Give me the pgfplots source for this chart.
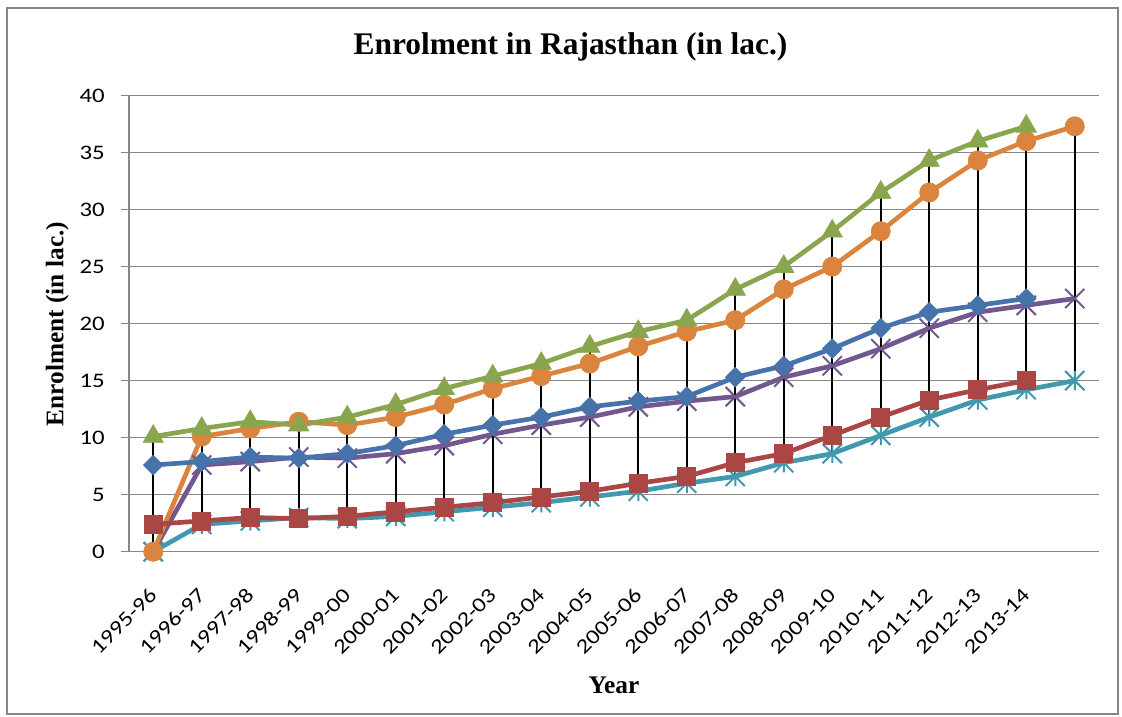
\documentclass[border=0pt]{standalone}
\usepackage{fontspec}
\usepackage{pgfplots}
\usepackage{pgfplotstable}
\pgfplotsset{compat=1.18}
\setmainfont{Liberation Serif}
\newfontfamily\tickfont[FakeStretch=1.2]{Carlito}

\definecolor{sblue}{HTML}{4673AB}
\definecolor{sred}{HTML}{AA4643}
\definecolor{sgreen}{HTML}{89A54E}
\definecolor{spurple}{HTML}{71588F}
\definecolor{scyan}{HTML}{4198AF}
\definecolor{sorange}{HTML}{DB843D}
\definecolor{gridgray}{HTML}{868686}

% diagonal cross, and diagonal cross with a vertical bar
\pgfdeclareplotmark{xcross}{%
  \pgfpathmoveto{\pgfqpoint{-\pgfplotmarksize}{-\pgfplotmarksize}}%
  \pgfpathlineto{\pgfqpoint{\pgfplotmarksize}{\pgfplotmarksize}}%
  \pgfpathmoveto{\pgfqpoint{-\pgfplotmarksize}{\pgfplotmarksize}}%
  \pgfpathlineto{\pgfqpoint{\pgfplotmarksize}{-\pgfplotmarksize}}%
  \pgfusepathqstroke}
\pgfdeclareplotmark{xstar}{%
  \pgfpathmoveto{\pgfqpoint{-\pgfplotmarksize}{-\pgfplotmarksize}}%
  \pgfpathlineto{\pgfqpoint{\pgfplotmarksize}{\pgfplotmarksize}}%
  \pgfpathmoveto{\pgfqpoint{-\pgfplotmarksize}{\pgfplotmarksize}}%
  \pgfpathlineto{\pgfqpoint{\pgfplotmarksize}{-\pgfplotmarksize}}%
  \pgfpathmoveto{\pgfqpoint{0pt}{-\pgfplotmarksize}}%
  \pgfpathlineto{\pgfqpoint{0pt}{\pgfplotmarksize}}%
  \pgfusepathqstroke}

% Enrolment in lakh; columns P, C, O are B, R, G carried one year forward.
% hi/lo give the span of all six series at each year (high-low lines).
\pgfplotstableread{
x  B     R     G     P     C     O     hi    lo
1  7.6   2.4   10.1  0     0     0     10.1  0
2  7.9   2.7   10.8  7.6   2.4   10.1  10.8  2.4
3  8.3   3.0   11.4  7.9   2.7   10.8  11.4  2.7
4  8.2   2.9   11.1  8.3   3.0   11.4  11.4  2.9
5  8.6   3.1   11.8  8.2   2.9   11.1  11.8  2.9
6  9.3   3.5   12.9  8.6   3.1   11.8  12.9  3.1
7  10.3  3.9   14.3  9.3   3.5   12.9  14.3  3.5
8  11.1  4.3   15.4  10.3  3.9   14.3  15.4  3.9
9  11.8  4.8   16.5  11.1  4.3   15.4  16.5  4.3
10 12.7  5.3   18.0  11.8  4.8   16.5  18.0  4.8
11 13.2  6.0   19.3  12.7  5.3   18.0  19.3  5.3
12 13.6  6.6   20.3  13.2  6.0   19.3  20.3  6.0
13 15.3  7.8   23.0  13.6  6.6   20.3  23.0  6.6
14 16.3  8.6   25.0  15.3  7.8   23.0  25.0  7.8
15 17.8  10.2  28.1  16.3  8.6   25.0  28.1  8.6
16 19.6  11.8  31.5  17.8  10.2  28.1  31.5  10.2
17 21.0  13.3  34.3  19.6  11.8  31.5  34.3  11.8
18 21.6  14.2  36.0  21.0  13.3  34.3  36.0  13.3
19 22.2  15.0  37.3  21.6  14.2  36.0  37.3  14.2
20 nan   nan   nan   22.2  15.0  37.3  37.3  15.0
}\enrol

\begin{document}
\begin{tikzpicture}
% page frame
\path[use as bounding box] (0,0) rectangle (841.5pt,-537.75pt);
\draw[gridgray, line width=1.1pt] (5.25pt,-6pt) rectangle (838.5pt,-535.5pt);

\begin{axis}[
  at={(96.75pt,-413.78pt)}, anchor=south west,
  scale only axis, width=727.5pt, height=342.15pt,
  xmin=0.5, xmax=20.5, ymin=0, ymax=40,
  axis x line*=bottom, axis y line*=left,
  axis line style={gridgray, line width=1pt},
  ymajorgrids, grid style={gridgray, line width=1pt},
  ytick={0,5,...,40},
  xtick={1,...,19},
  xticklabels={1995-96,1996-97,1997-98,1998-99,1999-00,2000-01,2001-02,2002-03,2003-04,2004-05,2005-06,2006-07,2007-08,2008-09,2009-10,2010-11,2011-12,2012-13,2013-14},
  tick align=outside, major tick length=6pt,
  xtick style={draw=none}, ytick style={gridgray, line width=1pt},
  /pgf/number format/assume math mode=true,
  yticklabel style={font=\tickfont\fontsize{15.5}{18}\selectfont, inner sep=0pt, xshift=-12pt},
  xticklabel style={font=\tickfont\fontsize{15.5}{18}\selectfont, rotate=45, anchor=east, inner sep=0pt},
  xticklabel shift=24pt,
  clip=false,
]
\addplot[spurple, line width=3.5pt, mark=xcross, mark size=7.2pt, mark options={line width=1.5pt}] table[x=x, y=P] {\enrol};
\addplot[scyan, line width=3.5pt, mark=xstar, mark size=7.2pt, mark options={line width=1.5pt}] table[x=x, y=C] {\enrol};
\addplot[sorange, line width=3.5pt, mark=*, mark size=7.2pt, mark options={line width=0.5pt}] table[x=x, y=O] {\enrol};
\addplot[sblue, line width=3.5pt, mark=square*, mark size=5.2pt, mark options={rotate=45, line width=0.5pt}] table[x=x, y=B] {\enrol};
\addplot[sred, line width=3.5pt, mark=square*, mark size=6.8pt, mark options={line width=0.5pt}] table[x=x, y=R] {\enrol};
\addplot[sgreen, line width=3.5pt, mark=triangle*, mark size=8.8pt, mark options={line width=0.5pt}] table[x=x, y=G] {\enrol};
% high-low lines
\addplot[draw=none, mark=none, forget plot, error bars/.cd, y dir=minus, y explicit, error mark=none,
  error bar style={draw=black, line width=1.3pt}]
  table[x=x, y=hi, y error minus expr=\thisrow{hi}-\thisrow{lo}] {\enrol};
\end{axis}

\node[anchor=base, font=\bfseries\fontsize{23.6}{26}\selectfont] at (427.9pt,-41.25pt) {Enrolment in Rajasthan (in lac.)};
\node[anchor=base, rotate=90, font=\bfseries\fontsize{19}{22}\selectfont] at (47.5pt,-243pt) {Enrolment (in lac.)};
\node[anchor=base, font=\bfseries\fontsize{19}{22}\selectfont] at (460.5pt,-520.2pt) {Year};
\end{tikzpicture}
\end{document}
